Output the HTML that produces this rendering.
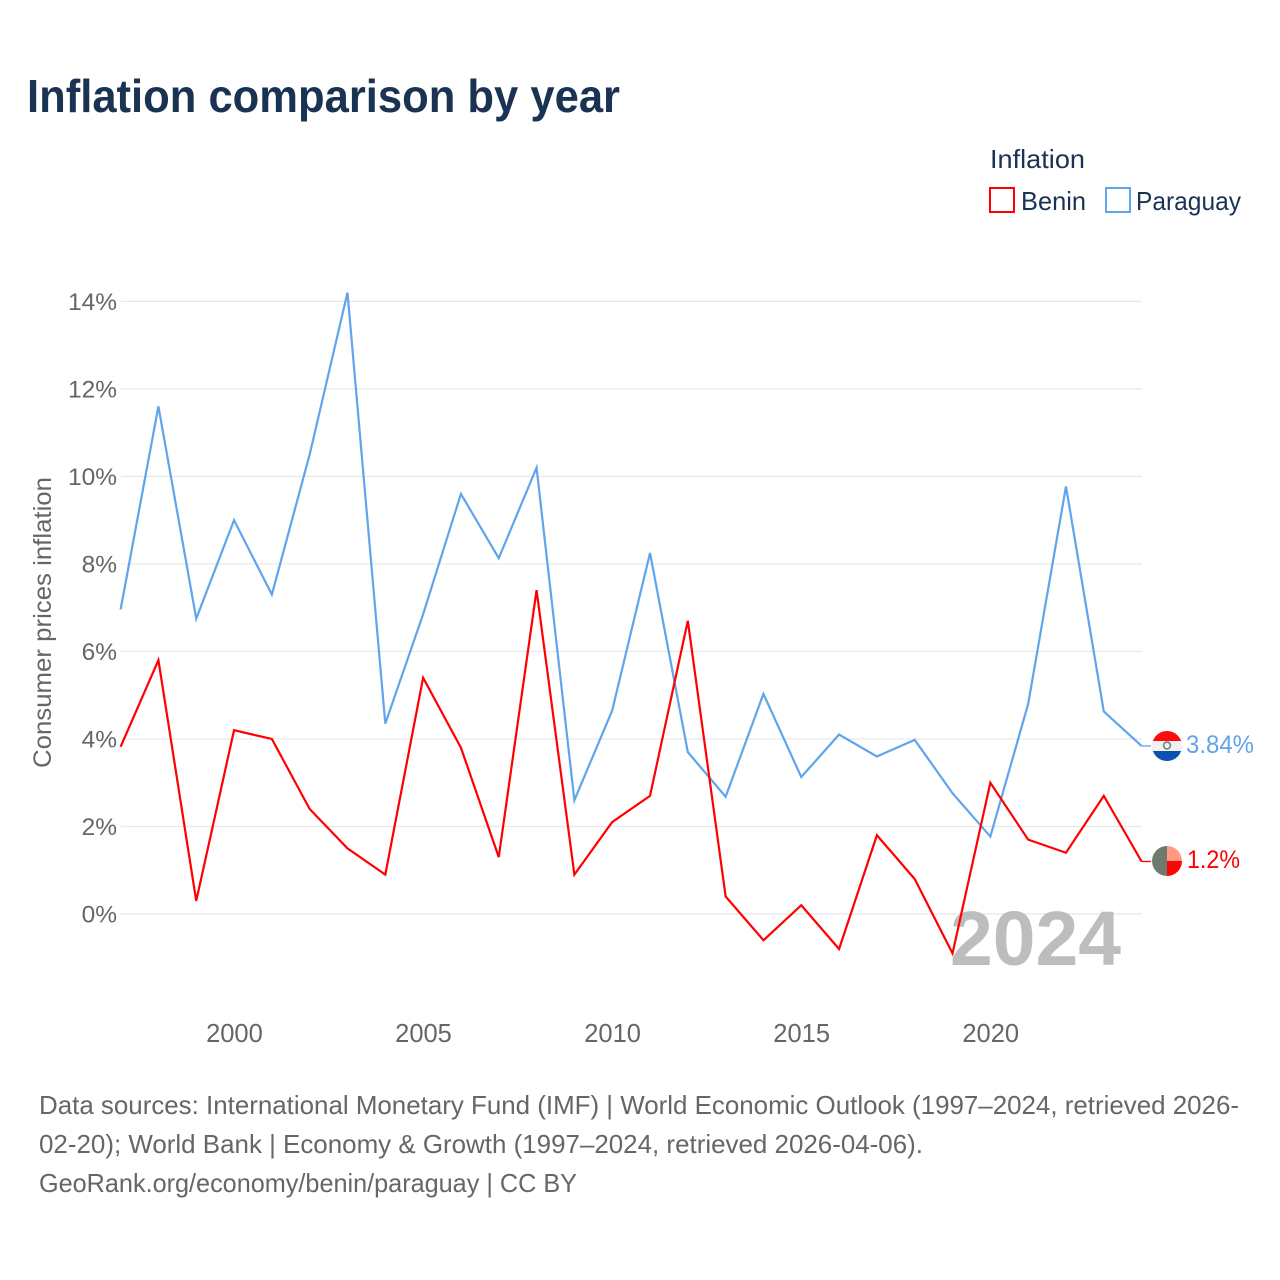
<!DOCTYPE html>
<html lang="en">
<head>
<meta charset="utf-8">
<title>Inflation comparison by year</title>
<style>
html,body{margin:0;padding:0;background:#fff}
svg{display:block}
text{font-family:"Liberation Sans",sans-serif}
</style>
</head>
<body>
<svg id="chart" width="1280" height="1280" viewBox="0 0 1280 1280" xmlns="http://www.w3.org/2000/svg">
  <defs>
    <clipPath id="flag-clip-py"><circle cx="1167" cy="746" r="15"/></clipPath>
    <clipPath id="flag-clip-bj"><circle cx="1167" cy="861" r="15"/></clipPath>
  </defs>
  <text x="27" y="112" font-size="46" font-weight="700" fill="#1a3352" textLength="593" lengthAdjust="spacingAndGlyphs">Inflation comparison by year</text>

  <g>
    <text x="990" y="168" font-size="26" fill="#1a3352" textLength="95" lengthAdjust="spacingAndGlyphs">Inflation</text>
    <rect x="990" y="188" width="24" height="24" fill="none" stroke="#ff0000" stroke-width="2"/>
    <text x="1021" y="210" font-size="26" fill="#1a3352" textLength="65" lengthAdjust="spacingAndGlyphs">Benin</text>
    <rect x="1106" y="188" width="24" height="24" fill="none" stroke="#5fa4ec" stroke-width="2"/>
    <text x="1136" y="210" font-size="26" fill="#1a3352" textLength="105" lengthAdjust="spacingAndGlyphs">Paraguay</text>
  </g>

  <text transform="translate(51 768) rotate(-90)" x="0" y="0" font-size="25" fill="#666" textLength="291" lengthAdjust="spacingAndGlyphs">Consumer prices inflation</text>

  <g id="grid"></g>
  <g id="y-ticks"></g>
  <g id="x-ticks"></g>

  <text x="950" y="965" font-size="77" font-weight="700" fill="#bcbdbe" textLength="171" lengthAdjust="spacingAndGlyphs">2024</text>

  <g id="series"></g>

  <g clip-path="url(#flag-clip-py)">
    <rect x="1152" y="731" width="30" height="10" fill="#ff0a0a"/>
    <rect x="1152" y="741" width="30" height="10" fill="#f1f1f1"/>
    <rect x="1152" y="751" width="30" height="10" fill="#0b52b0"/>
    <circle cx="1167" cy="745.5" r="3.4" fill="none" stroke="#77807a" stroke-width="1.6"/>
  </g>
  <text x="1186" y="753" font-size="25" fill="#5fa4ec" textLength="68" lengthAdjust="spacingAndGlyphs">3.84%</text>

  <g clip-path="url(#flag-clip-bj)">
    <rect x="1152" y="846" width="15" height="30" fill="#6f7a6f"/>
    <rect x="1167" y="846" width="15" height="15" fill="#ff9a85"/>
    <rect x="1167" y="861" width="15" height="15" fill="#ff0505"/>
  </g>
  <text x="1187" y="868" font-size="25" fill="#ff0000" textLength="53" lengthAdjust="spacingAndGlyphs">1.2%</text>

  <g font-size="26" fill="#666">
    <text x="39" y="1114" textLength="1200" lengthAdjust="spacingAndGlyphs">Data sources: International Monetary Fund (IMF) | World Economic Outlook (1997–2024, retrieved 2026-</text>
    <text x="39" y="1153" textLength="884" lengthAdjust="spacingAndGlyphs">02-20); World Bank | Economy &amp; Growth (1997–2024, retrieved 2026-04-06).</text>
    <text x="39" y="1192" textLength="538" lengthAdjust="spacingAndGlyphs">GeoRank.org/economy/benin/paraguay | CC BY</text>
  </g>
</svg>
<script>
var years = [1997,1998,1999,2000,2001,2002,2003,2004,2005,2006,2007,2008,2009,2010,2011,2012,2013,2014,2015,2016,2017,2018,2019,2020,2021,2022,2023,2024];
var beninValues = [3.82,5.8,0.3,4.2,4.0,2.4,1.5,0.9,5.4,3.8,1.3,7.4,0.9,2.1,2.7,6.7,0.4,-0.6,0.2,-0.8,1.8,0.8,-0.9,3.0,1.7,1.4,2.7,1.2];
var paraguayValues = [6.96,11.6,6.75,9.0,7.3,10.5,14.2,4.35,6.85,9.6,8.13,10.2,2.6,4.65,8.25,3.7,2.68,5.03,3.13,4.1,3.6,3.98,2.76,1.77,4.8,9.77,4.63,3.84];
var yTickValues = [0,2,4,6,8,10,12,14];
var xTickValues = [2000,2005,2010,2015,2020];

var SVG_NS = 'http://www.w3.org/2000/svg';
function xScale(year){ return 120.6 + (year - 1997) * (1141.6 - 120.6) / 27; }
function yScale(value){ return 914 - value * 43.76; }
function make(tag, parent, attrs){
  var el = document.createElementNS(SVG_NS, tag);
  for (var k in attrs) { el.setAttribute(k, attrs[k]); }
  parent.appendChild(el);
  return el;
}

var grid = document.getElementById('grid');
var yTicks = document.getElementById('y-ticks');
yTickValues.forEach(function(v){
  var line = make('line', grid, {x1:121, x2:1142, y1:yScale(v), y2:yScale(v), stroke:'#e8e8e8', 'stroke-width':1.2});
  
  
  var label = make('text', yTicks, {x:117, y:yScale(v) + 8.5, 'text-anchor':'end', 'font-size':24.5, fill:'#666'});
  
  
  label.textContent = v + '%';
});

var xTicks = document.getElementById('x-ticks');
xTickValues.forEach(function(y){
  var label = make('text', xTicks, {x:xScale(y) + 0.4, y:1042, 'text-anchor':'middle', 'font-size':25.5, fill:'#666'});
  
  
  label.textContent = y;
});

function seriesPoints(values){
  return values.map(function(v, i){ return xScale(years[i]).toFixed(2) + ',' + yScale(v).toFixed(2); });
}
function drawSeries(values, color, name){
  var pts = seriesPoints(values);
  var path = make('polyline', document.getElementById('series'), {points:pts.join(' '), fill:'none', stroke:color, 'stroke-width':2.2, 'stroke-linejoin':'miter'});
  
  
  var last = values[values.length - 1];
  var leader = make('line', document.getElementById('series'), {x1:xScale(years[years.length - 1]), x2:1151, y1:yScale(last), y2:yScale(last), stroke:color, 'stroke-width':1.3});
  
  
}
drawSeries(paraguayValues, '#5fa4ec', 'line-paraguay');
drawSeries(beninValues, '#ff0000', 'line-benin');
</script>
</body>
</html>
